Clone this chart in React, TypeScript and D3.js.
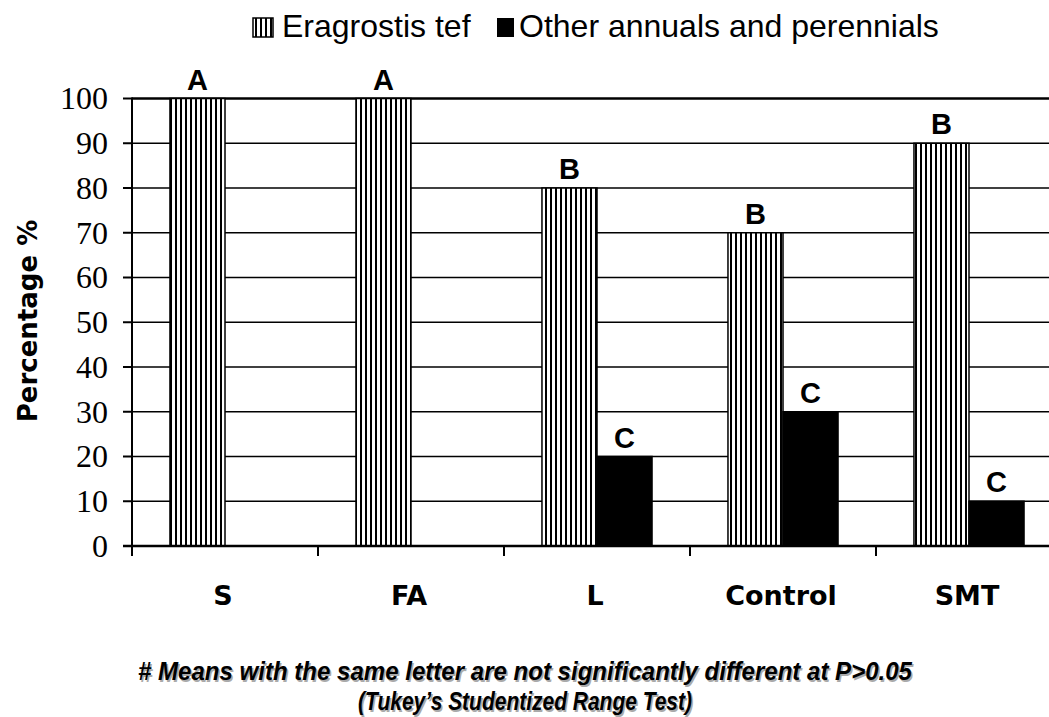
import React from "react";
import * as d3 from "d3";

const categories = ["S", "FA", "L", "Control", "SMT"];
const seriesNames = ["Eragrostis tef", "Other annuals and perennials"];
const eragrostisValues = [100, 100, 80, 70, 90];
const otherValues = [0, 0, 20, 30, 10];
const eragrostisLetters = ["A", "A", "B", "B", "B"];
const otherLetters = ["", "", "C", "C", "C"];
const yTicks = [0, 10, 20, 30, 40, 50, 60, 70, 80, 90, 100];
const yTitle = "Percentage %";
const noteLine1 = "# Means with the same letter are not significantly different at P>0.05";
const noteLine2 = "(Tukey\u2019s Studentized Range Test)";

const W = 1049;
const H = 717;
const left = 132;
const bottom = 546;
const top = 98.5;
const catStep = 186;

export default function App() {
  const x0 = d3
    .scaleBand<string>()
    .domain(categories)
    .range([left, left + catStep * categories.length])
    .padding(0);
  const x1 = d3
    .scaleBand<string>()
    .domain(seriesNames)
    .range([0, x0.bandwidth()])
    .paddingInner(0)
    .paddingOuter(0.69);
  const y = d3.scaleLinear().domain([0, 100]).range([bottom, top]);

  const series = [
    { name: seriesNames[0], values: eragrostisValues, letters: eragrostisLetters, fill: "url(#vhatch)" },
    { name: seriesNames[1], values: otherValues, letters: otherLetters, fill: "#000" },
  ];

  const serif = "Liberation Serif, Times New Roman, DejaVu Serif, serif";
  const sans = "Liberation Sans, Arial, sans-serif";
  const gothic = "DejaVu Sans, Verdana, sans-serif";
  const narrow = "Liberation Sans Narrow, Arial Narrow, Liberation Sans, Arial, sans-serif";

  return (
    <svg
      width={W}
      height={H}
      style={{ position: "absolute", left: 0, top: 0, background: "#fff" }}
      viewBox={`0 0 ${W} ${H}`}
    >
      <defs>
        <pattern id="vhatch" width={5} height={10} patternUnits="userSpaceOnUse">
          <rect x={0} y={0} width={5} height={10} fill="#fff" />
          <rect x={0} y={0} width={2} height={10} fill="#000" />
        </pattern>
      </defs>
      <rect x={0} y={0} width={W} height={H} fill="#fff" />

      {/* gridlines */}
      {yTicks.map((t) => (
        <line
          key={"g" + t}
          x1={left}
          x2={W}
          y1={y(t)}
          y2={y(t)}
          stroke="#000"
          strokeWidth={t === 100 ? 2.5 : 1.5}
        />
      ))}

      {/* bars */}
      {series.map((s) =>
        categories.map((c, i) =>
          s.values[i] > 0 ? (
            <rect
              key={s.name + c}
              x={(x0(c) as number) + (x1(s.name) as number)}
              y={y(s.values[i])}
              width={x1.bandwidth()}
              height={y(0) - y(s.values[i])}
              fill={s.fill}
              stroke="#000"
              strokeWidth={1.5}
            />
          ) : null
        )
      )}

      {/* letters */}
      {series.map((s) =>
        categories.map((c, i) =>
          s.letters[i] ? (
            <text
              key={"l" + s.name + c}
              x={(x0(c) as number) + (x1(s.name) as number) + x1.bandwidth() / 2}
              y={y(s.values[i]) - 9}
              textAnchor="middle"
              fontFamily={sans}
              fontWeight="bold"
              fontSize={29}
            >
              {s.letters[i]}
            </text>
          ) : null
        )
      )}

      {/* y axis */}
      <line x1={left} x2={left} y1={top - 1} y2={bottom} stroke="#000" strokeWidth={2} />
      {yTicks.map((t) => (
        <g key={"t" + t}>
          <line x1={left - 9} x2={left} y1={y(t)} y2={y(t)} stroke="#000" strokeWidth={2} />
          <text
            x={108}
            y={y(t)}
            dy="0.34em"
            textAnchor="end"
            style={{ fontFamily: serif }}
            fontSize={32}
          >
            {t}
          </text>
        </g>
      ))}

      {/* x axis */}
      <line x1={left - 9} x2={W} y1={bottom} y2={bottom} stroke="#000" strokeWidth={2.5} />
      {categories.map((c) => (
        <line
          key={"xt" + c}
          x1={x0(c) as number}
          x2={x0(c) as number}
          y1={bottom}
          y2={bottom + 10}
          stroke="#000"
          strokeWidth={2}
        />
      ))}
      {categories.map((c) => (
        <text
          key={"xl" + c}
          x={(x0(c) as number) + x0.bandwidth() / 2 - 2}
          y={605}
          textAnchor="middle"
          fontFamily={gothic}
          fontWeight="bold"
          fontSize={27}
        >
          {c}
        </text>
      ))}

      {/* y title */}
      <text
        transform={`translate(37,321) rotate(-90)`}
        textAnchor="middle"
        fontFamily={gothic}
        fontWeight="bold"
        fontSize={26}
      >
        {yTitle}
      </text>

      {/* legend */}
      <g>
        <rect x={253} y={18} width={20} height={19} fill="url(#vhatch)" stroke="#000" strokeWidth={1.5} />
        <text x={282} y={37} fontFamily={sans} fontSize={32}>
          {seriesNames[0]}
        </text>
        <rect x={497} y={18} width={17} height={19} fill="#000" />
        <text x={519} y={37} fontFamily={sans} fontSize={32}>
          {seriesNames[1]}
        </text>
      </g>

      {/* note */}
      <g fontFamily={narrow} fontWeight="bold" fontStyle="italic" fontSize={25.5} textAnchor="middle">
        <text x={526.5} y={681.5} fill="#aaa" textLength={774} lengthAdjust="spacingAndGlyphs">
          {noteLine1}
        </text>
        <text x={525} y={680} fill="#000" textLength={774} lengthAdjust="spacingAndGlyphs">
          {noteLine1}
        </text>
        <text x={526.5} y={711.5} fill="#aaa" textLength={334} lengthAdjust="spacingAndGlyphs">
          {noteLine2}
        </text>
        <text x={525} y={710} fill="#000" textLength={334} lengthAdjust="spacingAndGlyphs">
          {noteLine2}
        </text>
      </g>
    </svg>
  );
}
